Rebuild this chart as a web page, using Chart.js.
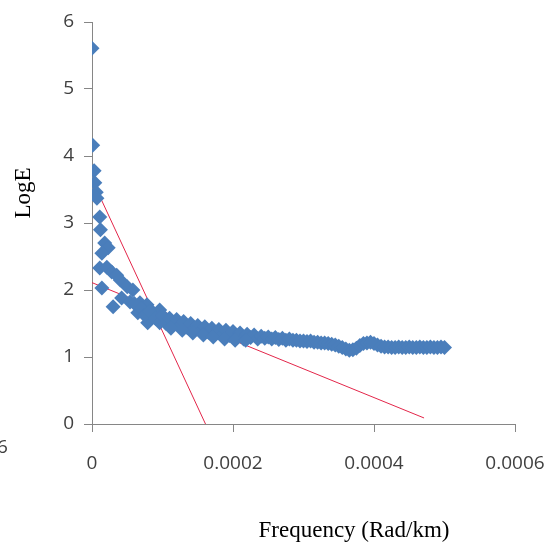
<!DOCTYPE html>
<html>
<head>
<meta charset="utf-8">
<script src="https://cdn.jsdelivr.net/npm/chart.js@4/dist/chart.umd.min.js"></script>
<style>
  html, body { margin: 0; padding: 0; background: #fff; }
  #wrap { width: 555px; height: 544px; position: relative; }
</style>
</head>
<body>
<div id="wrap"><canvas id="specChart"></canvas></div>
<script>
// frequency in units of 1e-6 rad/km, LogE
const freqMicro = [
  0, 1, 3, 4, 6, 7, 11, 12, 18, 23, 14, 11, 21, 28, 35, 14, 40, 50, 58, 30,
  42, 54, 68, 78, 79, 65, 86, 96, 60, 70, 75, 82, 90, 96,
  100, 105, 110, 115, 120, 125, 130, 135, 140, 145, 150, 155, 160, 165, 170, 175,
  180, 185, 190, 195, 200, 205, 210, 215, 220, 225, 230, 235, 240, 245, 250, 255,
  260, 265, 270, 275, 280, 285, 290, 295, 300, 305, 310, 315, 320, 325, 330, 335,
  340, 345, 350, 355, 360, 365, 370, 375, 380, 385, 390, 395, 400, 405, 410, 415,
  420, 425, 430, 435, 440, 445, 450, 455, 460, 465, 470, 475, 480, 485, 490, 495, 500,
  112, 128, 143, 158, 172, 188, 203, 218
];
const logE = [
  5.61, 4.16, 3.78, 3.60, 3.46, 3.37, 3.09, 2.90, 2.70, 2.63, 2.55, 2.33, 2.34, 2.27, 2.22, 2.03, 2.15, 2.05, 2.00, 1.75,
  1.88, 1.82, 1.81, 1.78, 1.51, 1.66, 1.67, 1.70, 1.80, 1.72, 1.62, 1.68, 1.58, 1.51,
  1.62, 1.50, 1.58, 1.48, 1.56, 1.46, 1.53, 1.44, 1.50, 1.42, 1.47, 1.39, 1.45, 1.37, 1.43, 1.35,
  1.41, 1.33, 1.40, 1.32, 1.38, 1.30, 1.36, 1.27, 1.34, 1.29, 1.33, 1.27, 1.31, 1.28, 1.30, 1.27,
  1.29, 1.26, 1.28, 1.25, 1.27, 1.25, 1.25, 1.24, 1.24, 1.23, 1.24, 1.22, 1.22, 1.21, 1.21, 1.20,
  1.19, 1.18, 1.16, 1.14, 1.12, 1.10, 1.11, 1.13, 1.17, 1.20, 1.21, 1.22, 1.20, 1.18, 1.16, 1.15,
  1.15, 1.14, 1.14, 1.15, 1.14, 1.14, 1.15, 1.14, 1.14, 1.15, 1.14, 1.14, 1.15, 1.14, 1.14, 1.15, 1.14,
  1.43, 1.40, 1.36, 1.33, 1.30, 1.27, 1.25, 1.25
];

// the two fitted red lines, end points [x, y]
const steepLine = [[0.000007, 3.49], [0.000161, 0]];
const shallowLine = [[0, 2.11], [0.000471, 0.09]];

const xTickLabels = ['0', '0.0002', '0.0004', '0.0006'];
const yTickLabels = ['0', '1', '2', '3', '4', '5', '6'];

const points = freqMicro.map((f, i) => ({ x: f * 1e-6, y: logE[i] }));
const toXY = arr => arr.map(p => ({ x: p[0], y: p[1] }));

const axisGray = '#868686';
const tickFont = { family: 'Open Sans', size: 19 };

// axis titles sit off-centre in the original, so draw them by hand
const titles = {
  id: 'titles',
  afterDraw(chart) {
    const c = chart.ctx;
    c.save();
    c.fillStyle = '#000';
    c.font = '23px "Liberation Serif"';
    c.textAlign = 'center';
    c.textBaseline = 'alphabetic';
    c.fillText('Frequency (Rad/km)', 354, 537);
    c.translate(24, 193);
    c.rotate(-Math.PI / 2);
    c.textBaseline = 'middle';
    c.fillText('LogE', 0, 0);
    c.restore();
    // clipped label left over at the page edge
    c.save();
    c.fillStyle = '#404040';
    c.font = '19px "Open Sans"';
    c.textAlign = 'left';
    c.textBaseline = 'middle';
    c.fillText('6', -3, 448);
    c.restore();
  }
};

const ctx = document.getElementById('specChart').getContext('2d');
new Chart(ctx, {
  type: 'scatter',
  data: {
    datasets: [{
      label: 'LogE',
      data: points,
      pointStyle: 'rectRot',
      pointRadius: 7.5,
      pointBorderWidth: 0,
      backgroundColor: '#4a7ebb',
      borderColor: '#4a7ebb'
    }, {
      label: 'fit1',
      type: 'line',
      data: toXY(steepLine),
      borderColor: '#e3264a',
      borderWidth: 1,
      pointRadius: 0,
      fill: false
    }, {
      label: 'fit2',
      type: 'line',
      data: toXY(shallowLine),
      borderColor: '#e3264a',
      borderWidth: 1,
      pointRadius: 0,
      fill: false
    }]
  },
  options: {
    responsive: true,
    maintainAspectRatio: false,
    animation: false,
    layout: { padding: { top: 22, right: 40, left: 0, bottom: 0 } },
    plugins: {
      legend: { display: false },
      tooltip: { enabled: false }
    },
    scales: {
      x: {
        type: 'linear',
        min: 0,
        max: 0.0006,
        afterFit: s => { s.height = 120; s.paddingLeft = 0; s.paddingRight = 0; },
        afterBuildTicks: s => { s.ticks = xTickLabels.map((t, i) => ({ value: i * 0.0002 })); },
        ticks: {
          callback: (v, i) => xTickLabels[i],
          font: tickFont,
          color: '#404040',
          padding: 20,
          maxRotation: 0
        },
        grid: { drawOnChartArea: false, drawTicks: true, tickLength: 8, color: axisGray },
        border: { display: true, color: axisGray }
      },
      y: {
        min: 0,
        max: 6,
        afterFit: s => { s.width = 92; s.paddingTop = 0; s.paddingBottom = 0; },
        afterBuildTicks: s => { s.ticks = yTickLabels.map((t, i) => ({ value: i })); },
        ticks: {
          callback: (v, i) => yTickLabels[i],
          font: tickFont,
          color: '#404040',
          padding: 10
        },
        grid: { drawOnChartArea: false, drawTicks: true, tickLength: 8, color: axisGray },
        border: { display: true, color: axisGray }
      }
    }
  },
  plugins: [titles]
});
</script>
</body>
</html>
